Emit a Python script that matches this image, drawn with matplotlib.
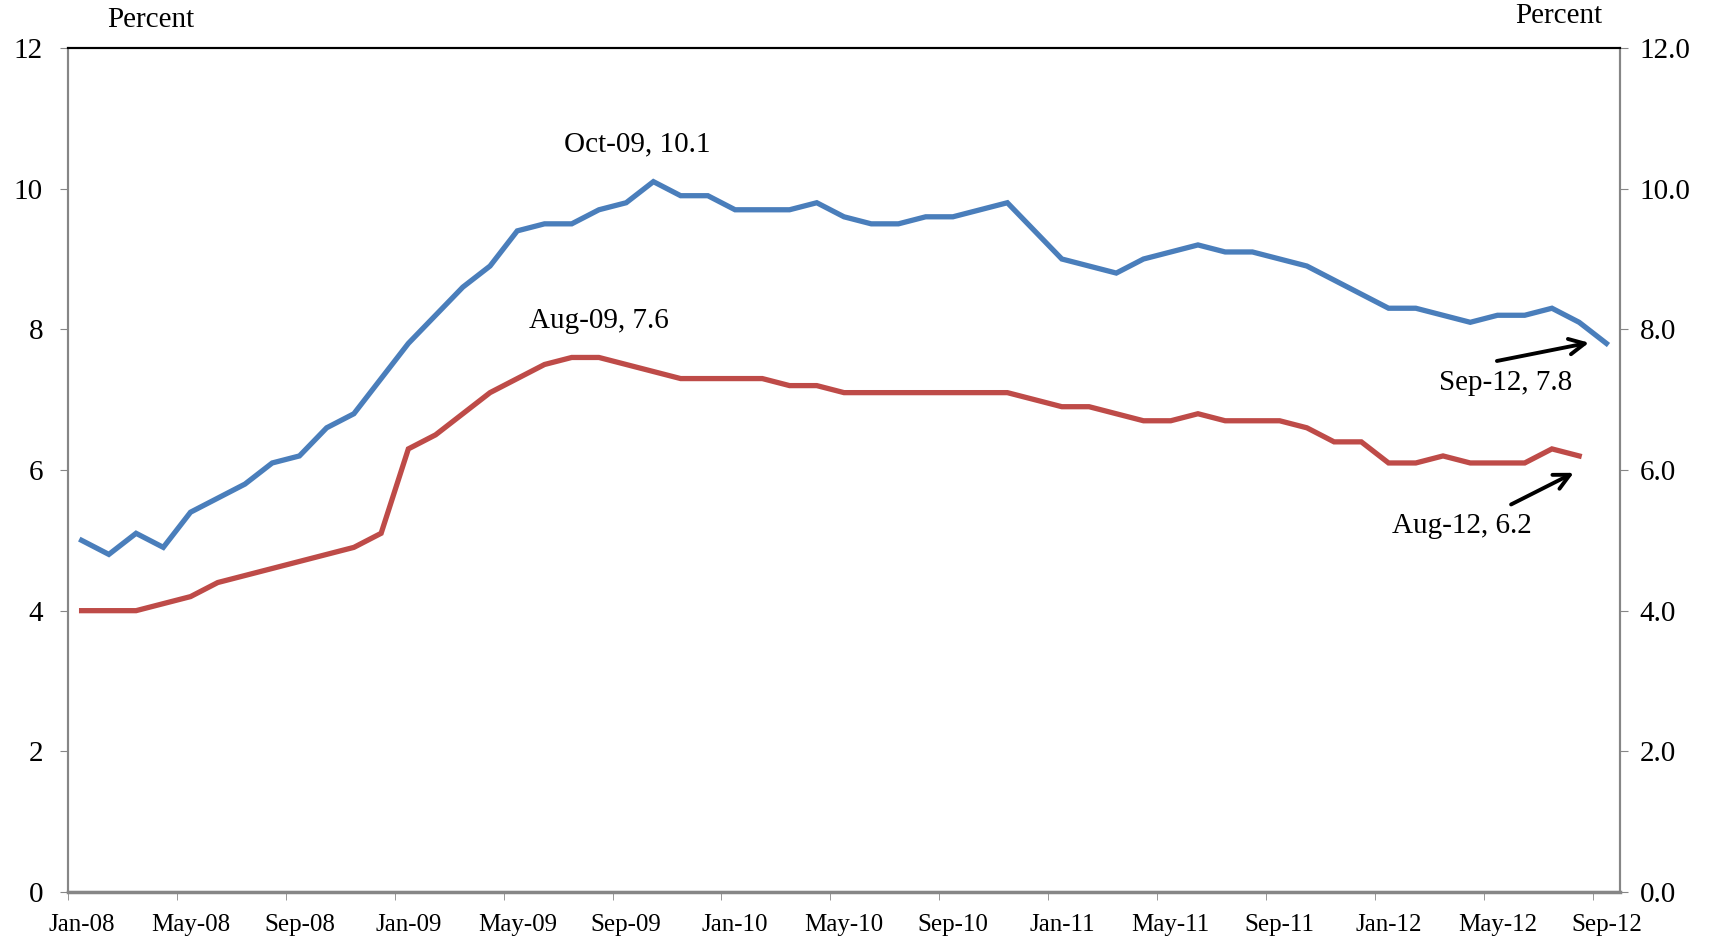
import numpy as np
import matplotlib
matplotlib.use("Agg")
import matplotlib.pyplot as plt

plt.rcParams['font.family'] = ['Liberation Serif', 'DejaVu Serif']

# monthly labels Jan-08 .. Sep-12
months = ['Jan', 'Feb', 'Mar', 'Apr', 'May', 'Jun', 'Jul', 'Aug', 'Sep', 'Oct', 'Nov', 'Dec']
dates = [f"{m}-{y:02d}" for y in range(8, 13) for m in months][:57]

blue = [5.0, 4.8, 5.1, 4.9, 5.4, 5.6, 5.8, 6.1, 6.2, 6.6, 6.8, 7.3,
        7.8, 8.2, 8.6, 8.9, 9.4, 9.5, 9.5, 9.7, 9.8, 10.1, 9.9, 9.9,
        9.7, 9.7, 9.7, 9.8, 9.6, 9.5, 9.5, 9.6, 9.6, 9.7, 9.8, 9.4,
        9.0, 8.9, 8.8, 9.0, 9.1, 9.2, 9.1, 9.1, 9.0, 8.9, 8.7, 8.5,
        8.3, 8.3, 8.2, 8.1, 8.2, 8.2, 8.3, 8.1, 7.8]
red = [4.0, 4.0, 4.0, 4.1, 4.2, 4.4, 4.5, 4.6, 4.7, 4.8, 4.9, 5.1,
       6.3, 6.5, 6.8, 7.1, 7.3, 7.5, 7.6, 7.6, 7.5, 7.4, 7.3, 7.3,
       7.3, 7.3, 7.2, 7.2, 7.1, 7.1, 7.1, 7.1, 7.1, 7.1, 7.1, 7.0,
       6.9, 6.9, 6.8, 6.7, 6.7, 6.8, 6.7, 6.7, 6.7, 6.6, 6.4, 6.4,
       6.1, 6.1, 6.2, 6.1, 6.1, 6.1, 6.3, 6.2, np.nan]

# labelled points: index into dates
blue_peak, red_peak = 21, 19
blue_last, red_last = 56, 55

left_ticks = [0, 2, 4, 6, 8, 10, 12]
right_labels = ['0.0', '2.0', '4.0', '6.0', '8.0', '10.0', '12.0']

blue_c = '#4A7EBB'
red_c = '#BE4B48'
grey = '#868686'
fs_x = 18
fs_y = 21
fs_t = 21

fig = plt.figure(figsize=(17.16, 9.41), dpi=100)
ax = fig.add_axes([68 / 1716, 1 - 892 / 941, (1620 - 68) / 1716, (892 - 48) / 941])

x = np.arange(len(dates))
ax.plot(x, blue, color=blue_c, lw=3.8, solid_joinstyle='miter')
ax.plot(x, red, color=red_c, lw=3.8, solid_joinstyle='miter')

ax.set_xlim(-0.5, len(dates) - 0.5)
ax.set_ylim(0, 12)

# labels at every 4th month, tick marks between categories
ax.set_xticks(x[::4])
ax.set_xticklabels(dates[::4], fontsize=fs_x)
ax.set_xticks(np.arange(-0.5, len(dates), 4), minor=True)
ax.tick_params(axis='x', which='major', length=0, pad=16)
ax.tick_params(axis='x', which='minor', length=6, color=grey, direction='out')

ax.set_yticks(left_ticks)
ax.set_yticklabels([str(t) for t in left_ticks], fontsize=fs_y)
ax.tick_params(axis='y', length=6, color=grey, direction='out', pad=12)

ax2 = ax.twinx()
ax2.set_ylim(0, 12)
ax2.set_yticks(left_ticks)
ax2.set_yticklabels(right_labels, fontsize=fs_y)
ax2.tick_params(axis='y', length=6, color=grey, direction='out', pad=8)

for a in (ax, ax2):
    for side in ('left', 'right', 'bottom'):
        a.spines[side].set_color(grey)
        a.spines[side].set_linewidth(1.5)
    a.spines['top'].set_color('black')
    a.spines['top'].set_linewidth(1.5)
ax.spines['bottom'].set_linewidth(2.5)

fig.text(151 / 1716, 1 - 20 / 941, 'Percent', ha='center', va='center', fontsize=fs_t)
fig.text(1559 / 1716, 1 - 16 / 941, 'Percent', ha='center', va='center', fontsize=fs_t)

# annotations
ax.text(20.4, 10.63, f"{dates[blue_peak]}, {blue[blue_peak]}", ha='center', va='center', fontsize=fs_t)
ax.text(19.0, 8.12, f"{dates[red_peak]}, {red[red_peak]}", ha='center', va='center', fontsize=fs_t)

arrow = dict(arrowstyle='->', color='black', lw=2.8, mutation_scale=28, shrinkA=0, shrinkB=0)
ax.annotate('', xy=(55.36, 7.81), xytext=(51.98, 7.55), arrowprops=arrow)
ax.text(52.3, 7.24, f"{dates[blue_last]}, {blue[blue_last]}", ha='center', va='center', fontsize=fs_t)
ax.annotate('', xy=(54.8, 5.96), xytext=(52.5, 5.51), arrowprops=arrow)
ax.text(50.7, 5.21, f"{dates[red_last]}, {red[red_last]}", ha='center', va='center', fontsize=fs_t)

fig.savefig('out.png', dpi=100)
